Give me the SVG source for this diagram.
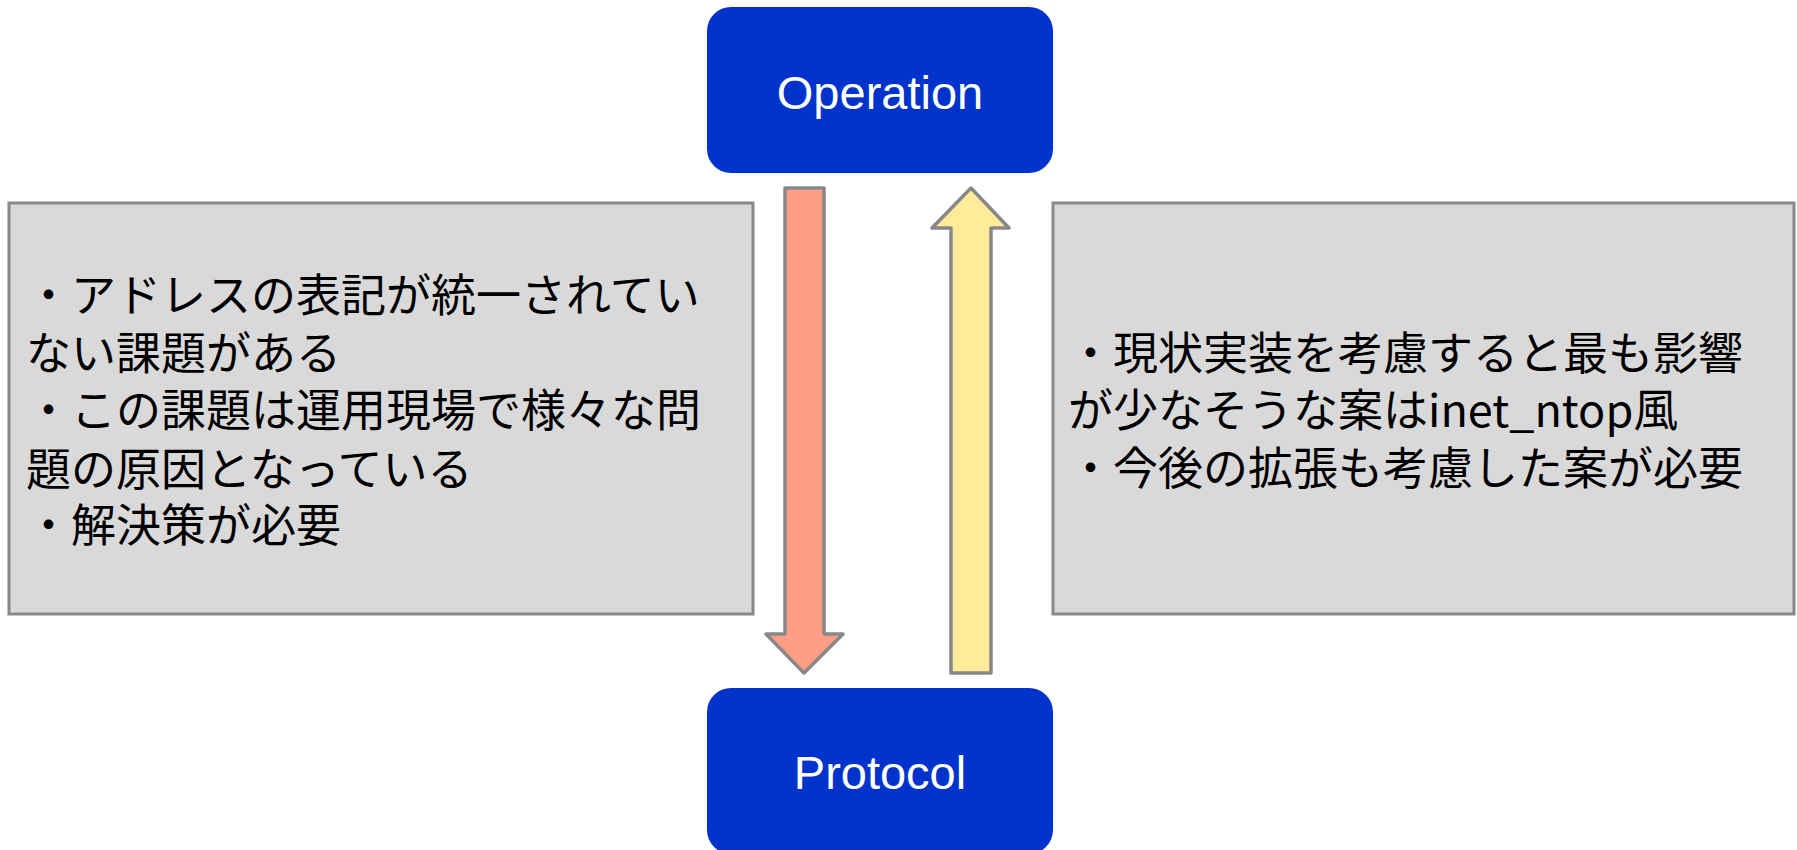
<svg xmlns="http://www.w3.org/2000/svg" width="1797" height="850" viewBox="0 0 1797 850">
<style>
.node{fill:#0033cc}
.ntext{fill:#ffffff;font-family:"Liberation Sans",Arial,sans-serif;font-size:47px;text-anchor:middle}
.note{fill:#d9d9d9;stroke:#888888;stroke-width:3}
.jp{fill:#000000;font-family:"Noto Sans CJK JP","Noto Sans CJK SC",sans-serif;font-size:45px}
.arrow{stroke:#888888;stroke-width:3.5;stroke-linejoin:round}
</style>
<rect width="1797" height="850" fill="#ffffff"/>
<g id="operation">
<rect class="node" x="707" y="7" width="346" height="166" rx="24"/>
<text class="ntext" x="880" y="109">Operation</text>
</g>
<g id="protocol">
<rect class="node" x="707" y="688" width="346" height="166" rx="24"/>
<text class="ntext" x="880" y="789">Protocol</text>
</g>
<g id="note-left">
<rect class="note" x="9" y="203" width="744" height="411"/>
<text class="jp" x="26"><tspan x="26" y="312">・アドレスの表記が統一されてい</tspan><tspan x="26" y="370">ない課題がある</tspan><tspan x="26" y="427">・この課題は運用現場で様々な問</tspan><tspan x="26" y="486">題の原因となっている</tspan><tspan x="26" y="542">・解決策が必要</tspan></text>
</g>
<g id="note-right">
<rect class="note" x="1053" y="203" width="741" height="411"/>
<text class="jp"><tspan x="1068" y="370">・現状実装を考慮すると最も影響</tspan><tspan x="1068" y="427">が少なそうな案はinet_ntop風</tspan><tspan x="1068" y="485">・今後の拡張も考慮した案が必要</tspan></text>
</g>
<g id="connectors">
<path class="arrow" fill="#ff9e85" d="M785 188 H824 V634 H843 L804 673 L766 634 H785 Z"/>
<path class="arrow" fill="#ffeb99" d="M951 673 H991 V228 H1009 L971 188 L932 228 H951 Z"/>
</g>
</svg>
